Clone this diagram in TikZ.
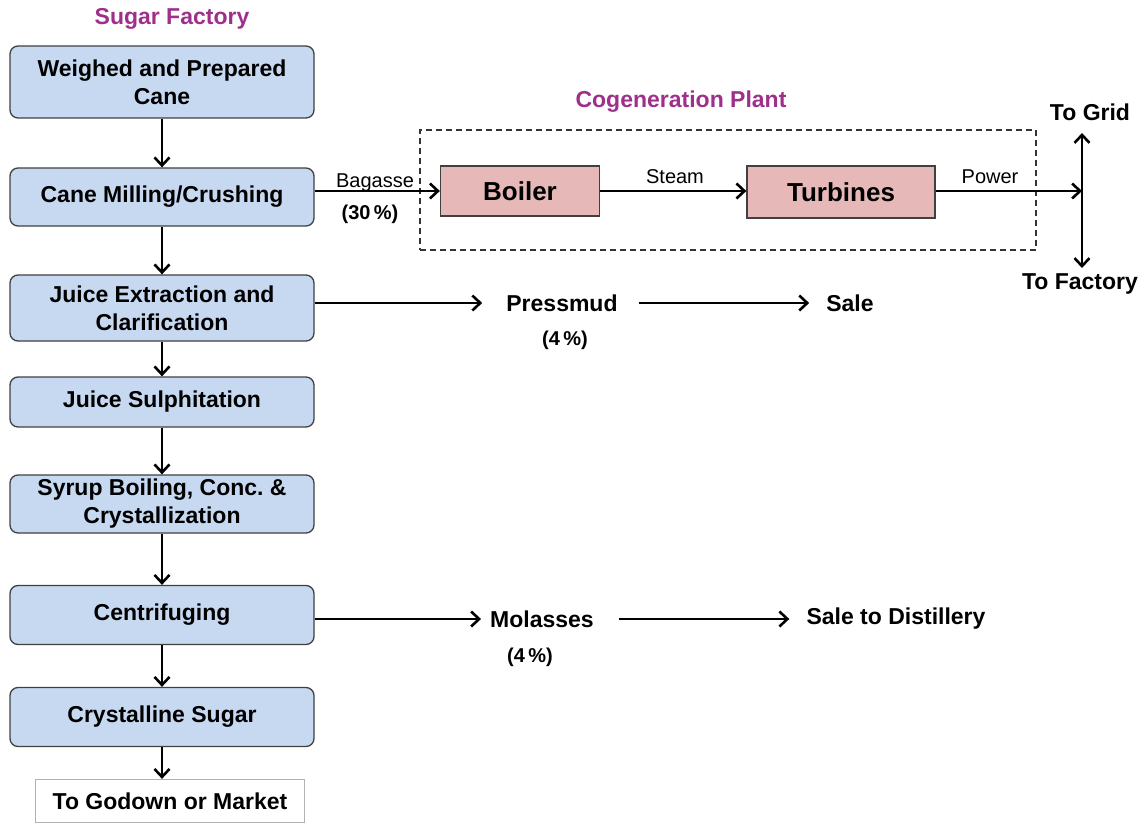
\documentclass[tikz,border=0pt]{standalone}
\usepackage{fontspec}
\setmainfont{Liberation Sans}
\usetikzlibrary{arrows.meta,positioning}
\definecolor{boxblue}{RGB}{198,217,241}
\definecolor{boxpink}{RGB}{230,185,184}
\definecolor{titlepurple}{RGB}{158,48,140}
\tikzset{
    process/.style={draw=black!75, line width=1.3pt, rounded corners=8pt, fill=boxblue,
        minimum width=304pt, align=center, inner sep=0pt,
        font=\bfseries\fontsize{23}{28}\selectfont},
    outlet/.style={draw=black!30, line width=1.3pt, fill=white, minimum width=269pt,
        minimum height=43pt, inner sep=0pt, font=\bfseries\fontsize{23}{28}\selectfont},
    plant/.style={draw=black!75, line width=1.3pt, fill=boxpink, inner sep=0pt,
        font=\bfseries\fontsize{26}{30}\selectfont},
    plantframe/.style={draw=black!80, dash pattern=on 6pt off 4pt, line width=1.2pt,
        minimum width=616pt, minimum height=120pt, inner sep=0pt},
    flow/.style={draw=black, line width=2.6pt, -{Straight Barb[length=8pt,width=15pt,line width=2.6pt]}},
    flowline/.style={draw=black, line width=2.6pt},
    stream/.style={inner sep=1pt, font=\fontsize{20}{24}\selectfont},
    product/.style={inner sep=1pt, font=\bfseries\fontsize{23}{28}\selectfont},
    heading/.style={inner sep=1pt, text=titlepurple, font=\bfseries\fontsize{23}{28}\selectfont},
}

\begin{document}
\begin{tikzpicture}[x=1pt,y=-1pt]
    \useasboundingbox (0,0) rectangle (1145,824);
    % sugar factory
    \node[heading] (sugar) at (172,19) {Sugar Factory};
    \node[process, minimum height=72pt] (weigh) at (162,82) {Weighed and Prepared\\Cane};
    \node[process, minimum height=58pt] (mill) at (162,197) {Cane Milling/Crushing};
    \node[process, minimum height=66pt] (juice) at (162,308) {Juice Extraction and\\Clarification};
    \node[process, minimum height=50pt] (sulph) at (162,402) {Juice Sulphitation};
    \node[process, minimum height=58pt] (syrup) at (162,504) {Syrup Boiling, Conc.\ \&\\Crystallization};
    \node[process, minimum height=59pt] (centri) at (162,615) {Centrifuging};
    \node[process, minimum height=59pt] (crystal) at (162,717) {Crystalline Sugar};
    \node[outlet] (godown) at (170,801) {To Godown or Market};
    \draw[flow] (weigh) -- (mill);
    \draw[flow] (mill) -- (juice);
    \draw[flow] (juice) -- (sulph);
    \draw[flow] (sulph) -- (syrup);
    \draw[flow] (syrup) -- (centri);
    \draw[flow] (centri) -- (crystal);
    \draw[flow] (crystal.south) -- (crystal.south |- godown.north);
    % cogeneration plant
    \node[heading] (cogenlabel) at (681,102) {Cogeneration Plant};
    \node[plantframe] (cogen) at (728,190) {};
    \node[plant, minimum width=159pt, minimum height=50pt] (boiler) at (520,191) {Boiler};
    \node[plant, minimum width=188pt, minimum height=52pt] (turbine) at (841,192) {Turbines};
    \coordinate (split) at (1082,191);
    \coordinate (grid) at (1082,133);
    \coordinate (factory) at (1082,268);
    \draw[flow] (mill.east |- boiler.west) -- (boiler.west);
    \draw[flow] (boiler.east) -- (boiler.east -| turbine.west);
    \draw[flow] (turbine.east |- split) -- (split);
    \draw[flow] (split) -- (grid);
    \draw[flow] (split) -- (factory);
    \node[stream] (bagasse) at (375,183) {Bagasse};
    \node[product, font=\bfseries\fontsize{20}{24}\selectfont] (bagpct) at (370,214) {(30\,\%)};
    \node[stream] (steam) at (675,177) {Steam};
    \node[stream] (power) at (990,177) {Power};
    \node[product] (togrid) at (1090,112) {To Grid};
    \node[product] (tofactory) at (1080,284) {To Factory};
    % by-products
    \node[product] (pressmud) at (562,303) {Pressmud};
    \node[product, font=\bfseries\fontsize{20}{24}\selectfont] (presspct) at (565,340) {(4\,\%)};
    \node[product] (sale) at (850,303) {Sale};
    \draw[flow, shorten >=23pt] (juice.east |- pressmud) -- (pressmud.west);
    \draw[flow, shorten <=20pt, shorten >=16pt] (pressmud.east) -- (sale.west);
    \node[product] (molasses) at (542,619) {Molasses};
    \node[product, font=\bfseries\fontsize{20}{24}\selectfont] (molpct) at (530,657) {(4\,\%)};
    \node[product] (distil) at (896,619) {Sale to Distillery};
    \draw[flow, shorten >=8pt] (centri.east |- molasses) -- (molasses.west);
    \draw[flow, shorten <=24pt, shorten >=16pt] (molasses.east) -- (distil.west);
\end{tikzpicture}
\end{document}
